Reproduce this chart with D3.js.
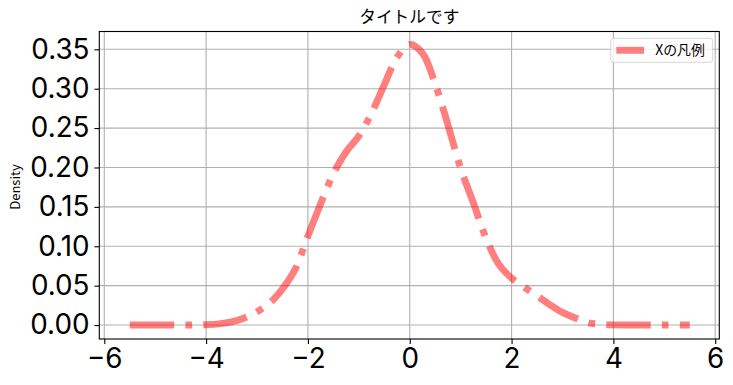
<!DOCTYPE html>
<html>
<head>
<meta charset="utf-8">
<script src="https://cdn.jsdelivr.net/npm/d3@7"></script>
<style>
  body { margin: 0; background: #fff; }
  text { font-family: "Noto Sans CJK JP", "DejaVu Sans", sans-serif; fill: #000; }
  .tick text { font-family: Inter, "Liberation Sans", sans-serif; }
</style>
</head>
<body>
<div id="main-chart"></div>
<script>
var width = 733, height = 385;
var margin = { left: 99.3, right: 733 - 719.3, top: 31.5, bottom: 385 - 339 };

// KDE curve
var xValues = [-5.5, -5, -4.5, -4.25, -4, -3.75, -3.5, -3.25, -3, -2.75, -2.5, -2.25,
  -2, -1.75, -1.5, -1.25, -1, -0.75, -0.5, -0.25, 0, 0.25, 0.5, 0.75, 1, 1.25,
  1.5, 1.75, 2, 2.25, 2.5, 2.75, 3, 3.25, 3.5, 3.75, 4, 4.5, 5, 5.5];
var density = [0, 0, 0, 0.0001, 0.0005, 0.0015, 0.004, 0.009, 0.017, 0.028, 0.046, 0.071,
  0.113, 0.154, 0.192, 0.220, 0.240, 0.269, 0.305, 0.340, 0.356, 0.345, 0.306, 0.254, 0.199, 0.155,
  0.110, 0.077, 0.0596, 0.048, 0.037, 0.026, 0.016, 0.009, 0.003, 0.001, 0.0002, 0, 0, 0];

var xTicks = [-6, -4, -2, 0, 2, 4, 6];
var yTicks = [0, 0.05, 0.1, 0.15, 0.2, 0.25, 0.3, 0.35];
var title = "タイトルです";
var yLabel = "Density";
var legendLabel = "Xの凡例";

var lineColor = "rgba(255,0,0,0.5)";
var lineWidth = 6.94;
var dash = "44.4 11.1 6.94 11.1";

var svg = d3.select("#main-chart").append("svg")
  .attr("width", width).attr("height", height);

var x = d3.scaleLinear().domain([-6.098, 6.08]).range([margin.left, width - margin.right]);
var y = d3.scaleLinear().domain([-0.0177, 0.3726]).range([height - margin.bottom, margin.top]);

// grid
svg.append("g").selectAll("line").data(xTicks).enter().append("line")
  .attr("x1", function(d) { return x(d); }).attr("x2", function(d) { return x(d); })
  .attr("y1", margin.top).attr("y2", height - margin.bottom)
  .attr("stroke", "#b0b0b0").attr("stroke-width", 1.1);
svg.append("g").selectAll("line").data(yTicks).enter().append("line")
  .attr("y1", function(d) { return y(d); }).attr("y2", function(d) { return y(d); })
  .attr("x1", margin.left).attr("x2", width - margin.right)
  .attr("stroke", "#b0b0b0").attr("stroke-width", 1.1);

// curve
var pts = xValues.map(function(v, i) { return [v, density[i]]; });
var line = d3.line()
  .x(function(d) { return x(d[0]); })
  .y(function(d) { return y(d[1]); })
  .curve(d3.curveCatmullRom.alpha(0.5));
svg.append("path").datum(pts)
  .attr("d", line)
  .attr("fill", "none")
  .attr("stroke", lineColor)
  .attr("stroke-width", lineWidth)
  .attr("stroke-dasharray", dash);

// axes
var xAxis = svg.append("g")
  .attr("transform", "translate(0," + (height - margin.bottom) + ")")
  .call(d3.axisBottom(x).tickValues(xTicks).tickSize(4.9).tickPadding(4.5)
    .tickFormat(function(d) { return d < 0 ? "\u2212" + Math.abs(d) : d; }));
var yAxis = svg.append("g")
  .attr("transform", "translate(" + margin.left + ",0)")
  .call(d3.axisLeft(y).tickValues(yTicks).tickSize(4.9).tickPadding(4.9)
    .tickFormat(d3.format(".2f")));
[xAxis, yAxis].forEach(function(a) {
  a.select(".domain").remove();
  a.selectAll(".tick line").attr("stroke", "#000").attr("stroke-width", 1.1);
  a.selectAll(".tick text").style("font-size", "27.8px").attr("fill", "#000");
});

// frame
svg.append("rect")
  .attr("x", margin.left).attr("y", margin.top)
  .attr("width", width - margin.right - margin.left)
  .attr("height", height - margin.bottom - margin.top)
  .attr("fill", "none").attr("stroke", "#000").attr("stroke-width", 1.1);

// title and label
svg.append("text")
  .attr("x", (margin.left + width - margin.right) / 2).attr("y", 23.3)
  .attr("text-anchor", "middle").style("font-size", "16.7px").text(title);
svg.append("text")
  .attr("transform", "translate(20," + 187 + ") rotate(-90)")
  .attr("text-anchor", "middle").style("font-size", "13px").text(yLabel);

// legend
var leg = svg.append("g");
leg.append("rect")
  .attr("x", 610.7).attr("y", 38.3).attr("width", 102).attr("height", 24)
  .attr("rx", 2.8)
  .attr("fill", "rgba(255,255,255,0.8)").attr("stroke", "rgba(204,204,204,0.8)").attr("stroke-width", 1);
leg.append("line")
  .attr("x1", 616.3).attr("x2", 644.1).attr("y1", 50.3).attr("y2", 50.3)
  .attr("stroke", lineColor).attr("stroke-width", lineWidth);
leg.append("text")
  .attr("x", 655.2).attr("y", 55.3)
  .style("font-size", "13.9px").text(legendLabel);
</script>
</body>
</html>
